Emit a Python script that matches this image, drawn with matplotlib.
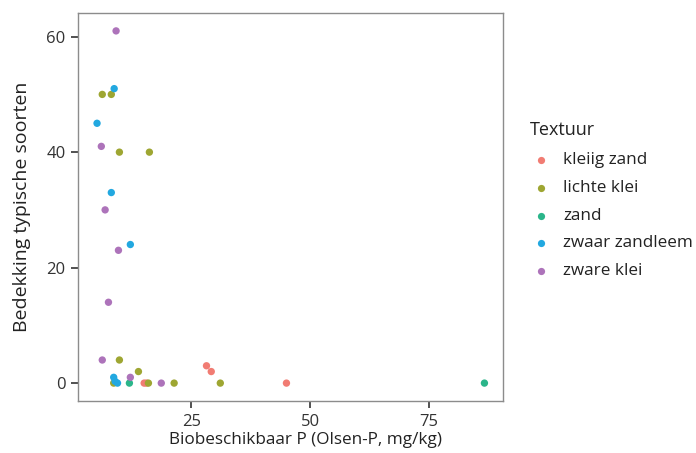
import matplotlib
matplotlib.use("Agg")
import matplotlib.pyplot as plt
from matplotlib.lines import Line2D

plt.rcParams['font.family'] = ['Open Sans', 'DejaVu Sans']

categories = ["kleiig zand", "lichte klei", "zand", "zwaar zandleem", "zware klei"]
colors = ["#F17C73", "#9EA632", "#2BB58A", "#22A8E0", "#AD73BA"]

kleiig_zand_x = [15.1, 15.6, 28.2, 29.2, 45.0]
kleiig_zand_y = [0, 0, 3, 2, 0]
lichte_klei_x = [6.3, 8.2, 9.9, 16.2, 9.9, 13.9, 8.7, 16.0, 21.4, 31.1]
lichte_klei_y = [50, 50, 40, 40, 4, 2, 0, 0, 0, 0]
zand_x = [12.0, 86.6]
zand_y = [0, 0]
zwaar_zandleem_x = [8.8, 5.2, 8.2, 12.2, 8.7, 9.0, 9.5]
zwaar_zandleem_y = [51, 45, 33, 24, 1, 0.3, 0]
zware_klei_x = [9.2, 6.1, 6.9, 9.7, 7.6, 6.3, 12.2, 18.7]
zware_klei_y = [61, 41, 30, 23, 14, 4, 1, 0]

series = [
    (kleiig_zand_x, kleiig_zand_y),
    (lichte_klei_x, lichte_klei_y),
    (zand_x, zand_y),
    (zwaar_zandleem_x, zwaar_zandleem_y),
    (zware_klei_x, zware_klei_y),
]

xticks = [25, 50, 75]
yticks = [0, 20, 40, 60]

W, H = 696, 453
fig = plt.figure(figsize=(W/100, H/100), dpi=100)
ax = fig.add_axes([78/W, 1-401/H, (503-78)/W, (401-13)/H])

for (xs, ys), c in zip(series, colors):
    ax.scatter(xs, ys, s=28, color=c, edgecolors='none', zorder=3)

ax.set_xlim(1.2, 90.5)
ax.set_ylim(-3.1, 64.1)
ax.set_xticks(xticks)
ax.set_yticks(yticks)
for s in ax.spines.values():
    s.set_color('#8c8c8c')
    s.set_linewidth(1.0)
ax.tick_params(axis='both', length=5, width=1.2, color='#333333', labelsize=12, labelcolor='#333333', pad=4)
ax.set_xlabel("Biobeschikbaar P (Olsen-P, mg/kg)", fontsize=12.3, color='#222222')
ax.xaxis.set_label_coords(0.535, -0.08)
ax.set_ylabel("Bedekking typische soorten", fontsize=14, color='#222222', labelpad=11)

# legend (key)
fig.text(530/W, 1-130/H, "Textuur", fontsize=13, color='#222222', va='center', ha='left')
for i, (cat, c) in enumerate(zip(categories, colors)):
    yy = 1 - (160 + i*27.75)/H
    fig.add_artist(Line2D([541/W], [yy], marker='o', linestyle='none', markersize=5.2,
                          markerfacecolor=c, markeredgecolor='none', transform=fig.transFigure))
    fig.text(563/W, yy, cat, fontsize=12.3, color='#222222', va='center', ha='left')

fig.savefig("out.png", dpi=100)
